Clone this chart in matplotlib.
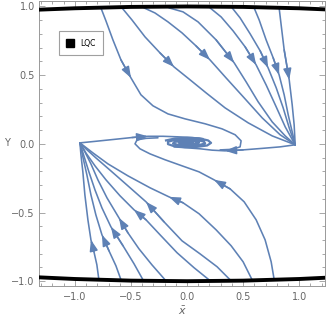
import numpy as np
import matplotlib
matplotlib.use("Agg")
import matplotlib.pyplot as plt
from matplotlib.lines import Line2D

# stream lines (x bar, Y)
# lines starting on the upper LQC boundary
t1_x = [-0.768, -0.723, -0.661, -0.589, -0.500, -0.411, -0.304, -0.170, -0.018, 0.161, 0.3125, 0.429, 0.482, 0.473, 0.402, 0.295]
t1_y = [0.99, 0.895, 0.757, 0.611, 0.480, 0.357, 0.277, 0.218, 0.182, 0.146, 0.109, 0.066, 0.022, -0.022, -0.040, -0.044]
t2_x = [-0.580, -0.491, -0.375, -0.241, -0.116, 0.027, 0.170, 0.339, 0.545, 0.759, 0.964]
t2_y = [0.99, 0.902, 0.779, 0.662, 0.560, 0.466, 0.371, 0.262, 0.153, 0.058, -0.007]
t3_x = [-0.384, -0.286, -0.170, -0.045, 0.080, 0.205, 0.348, 0.509, 0.670, 0.830, 0.964]
t3_y = [0.99, 0.953, 0.888, 0.808, 0.713, 0.611, 0.480, 0.335, 0.189, 0.066, -0.007]
t4_x = [-0.161, -0.036, 0.098, 0.259, 0.420, 0.527, 0.634, 0.759, 0.875, 0.964]
t4_y = [0.99, 0.961, 0.888, 0.757, 0.590, 0.451, 0.306, 0.160, 0.058, -0.007]
t5_x = [0.205, 0.304, 0.411, 0.518, 0.616, 0.705, 0.795, 0.875, 0.964]
t5_y = [0.99, 0.924, 0.822, 0.706, 0.575, 0.429, 0.269, 0.124, -0.007]
t6_x = [0.402, 0.473, 0.5625, 0.652, 0.723, 0.795, 0.857, 0.911, 0.964]
t6_y = [0.99, 0.917, 0.801, 0.677, 0.553, 0.408, 0.262, 0.116, -0.007]
t7_x = [0.598, 0.643, 0.705, 0.768, 0.821, 0.866, 0.902, 0.9375, 0.964]
t7_y = [0.99, 0.902, 0.757, 0.626, 0.502, 0.357, 0.211, 0.087, -0.007]
t8_x = [0.821, 0.839, 0.866, 0.911, 0.9375, 0.955, 0.964]
t8_y = [0.99, 0.866, 0.684, 0.466, 0.284, 0.138, -0.007]

# lines starting on the lower LQC boundary
b1_x = [0.777, 0.750, 0.696, 0.616, 0.509, 0.384, 0.241, 0.107, -0.045, -0.196, -0.330, -0.420, -0.464, -0.446, -0.366, -0.259]
b1_y = [-0.99, -0.859, -0.699, -0.553, -0.422, -0.328, -0.262, -0.204, -0.160, -0.116, -0.073, -0.036, 0.0, 0.029, 0.040, 0.044]
b2_x = [0.580, 0.500, 0.393, 0.259, 0.107, -0.036, -0.161, -0.330, -0.527, -0.705, -0.839, -0.955]
b2_y = [-0.99, -0.859, -0.742, -0.626, -0.509, -0.429, -0.386, -0.320, -0.233, -0.146, -0.066, 0.007]
b3_x = [0.384, 0.268, 0.116, -0.045, -0.205, -0.366, -0.527, -0.679, -0.813, -0.902, -0.955]
b3_y = [-0.99, -0.895, -0.801, -0.706, -0.568, -0.422, -0.306, -0.197, -0.102, -0.036, 0.007]
b4_x = [0.196, 0.0625, -0.089, -0.241, -0.366, -0.473, -0.598, -0.723, -0.821, -0.902, -0.955]
b4_y = [-0.99, -0.902, -0.793, -0.662, -0.553, -0.480, -0.378, -0.262, -0.160, -0.066, 0.007]
b5_x = [-0.196, -0.313, -0.429, -0.527, -0.607, -0.714, -0.795, -0.857, -0.911, -0.955]
b5_y = [-0.99, -0.881, -0.764, -0.648, -0.539, -0.393, -0.262, -0.146, -0.058, 0.007]
b6_x = [-0.393, -0.473, -0.571, -0.679, -0.759, -0.821, -0.875, -0.920, -0.955]
b6_y = [-0.99, -0.873, -0.742, -0.604, -0.466, -0.335, -0.204, -0.087, 0.007]
b7_x = [-0.589, -0.634, -0.696, -0.759, -0.813, -0.857, -0.893, -0.929, -0.955]
b7_y = [-0.99, -0.888, -0.779, -0.662, -0.517, -0.371, -0.226, -0.095, 0.007]
b8_x = [-0.786, -0.804, -0.830, -0.857, -0.884, -0.911, -0.929, -0.946, -0.955]
b8_y = [-0.99, -0.881, -0.786, -0.699, -0.553, -0.371, -0.204, -0.080, 0.007]

# return lines into the focus and the focus itself
r_x = [0.964, 0.830, 0.670, 0.500, 0.339, 0.223, 0.116, 0.0, -0.116]
r_y = [-0.007, -0.022, -0.033, -0.044, -0.051, -0.046, -0.036, -0.029, -0.022]
l_x = [-0.955, -0.821, -0.643, -0.491, -0.348, -0.214, -0.080, 0.045, 0.143]
l_y = [0.007, 0.018, 0.033, 0.046, 0.055, 0.055, 0.051, 0.046, 0.038]
spiral_x = [-0.1875, -0.107, 0.0, 0.107, 0.1875, 0.214, 0.179, 0.089, -0.018, -0.116, -0.170, -0.170,
            -0.116, -0.009, 0.089, 0.152, 0.161, 0.107, 0.009, -0.080, -0.125, -0.107, -0.027, 0.0625,
            0.107, 0.080, 0.009, -0.054, -0.071, -0.036, 0.027, 0.054, 0.018, -0.018, -0.027, 0.0]
spiral_y = [0.025, 0.039, 0.044, 0.040, 0.025, 0.007, -0.012, -0.022, -0.024, -0.017, -0.002, 0.015,
            0.027, 0.031, 0.028, 0.016, 0.003, -0.009, -0.013, -0.008, 0.003, 0.015, 0.020, 0.018,
            0.009, -0.001, -0.005, -0.001, 0.007, 0.013, 0.012, 0.005, 0.0, 0.003, 0.008, 0.010]

lines = [(t1_x, t1_y, 4), (t2_x, t2_y, 4), (t3_x, t3_y, 5), (t4_x, t4_y, 4),
         (t5_x, t5_y, 4), (t6_x, t6_y, 4), (t7_x, t7_y, 4), (t8_x, t8_y, 3),
         (b1_x, b1_y, 6), (b2_x, b2_y, 6), (b3_x, b3_y, 5), (b4_x, b4_y, 5),
         (b5_x, b5_y, 4), (b6_x, b6_y, 3), (b7_x, b7_y, 3), (b8_x, b8_y, 3),
         (r_x, r_y, 4), (l_x, l_y, 4)]

# LQC boundary
lqc_x = [-1.32, -1.0, -0.5, 0.0, 0.5, 1.0, 1.23]
lqc_top = [0.977, 0.987, 0.997, 1.0, 0.997, 0.987, 0.979]
lqc_bot = [-0.972, -0.984, -0.996, -1.0, -0.996, -0.984, -0.975]

blue = '#5E81B5'
gray = '#666666'

fig = plt.figure(figsize=(3.27, 3.19), dpi=100)
ax = fig.add_axes([39/327, 1 - 286/319, 286/327, 285/319])

for xs, ys, ia in lines:
    ax.plot(xs, ys, color=blue, lw=1.15, solid_capstyle='round', solid_joinstyle='round', zorder=2)
    ax.annotate('', xy=(xs[ia], ys[ia]), xytext=(xs[ia-1], ys[ia-1]),
                arrowprops=dict(arrowstyle='-|>,head_length=0.6,head_width=0.22',
                                color=blue, lw=1.1, mutation_scale=11,
                                shrinkA=0, shrinkB=0), zorder=3)

# the focus at the origin, drawn a bit heavier so it reads as a dense knot
ax.plot(spiral_x, spiral_y, color=blue, lw=1.6, solid_joinstyle='round', zorder=2)

ax.plot(lqc_x, lqc_top, color='black', lw=2.8, zorder=4)
ax.plot(lqc_x, lqc_bot, color='black', lw=2.8, zorder=4)

ax.set_xlim(-1.32, 1.23)
ax.set_ylim(-1.035, 1.04)
ax.set_xticks([-1.0, -0.5, 0.0, 0.5, 1.0])
ax.set_yticks([-1.0, -0.5, 0.0, 0.5, 1.0])
ax.set_xticks(np.arange(-1.3, 1.25, 0.1), minor=True)
ax.set_yticks(np.arange(-1.0, 1.05, 0.1), minor=True)
ax.tick_params(which='both', direction='in', top=True, right=True, color='#999999',
               labelcolor=gray, labelsize=7, width=0.6)
ax.tick_params(which='major', length=4)
ax.tick_params(which='minor', length=2)
ax.xaxis.set_major_formatter(plt.FuncFormatter(lambda v, p: f'{v:.1f}'.replace('-', '\u2212')))
ax.yaxis.set_major_formatter(plt.FuncFormatter(lambda v, p: f'{v:.1f}'.replace('-', '\u2212')))
ax.tick_params(axis='x', labeltop=False, pad=4)
ax.tick_params(axis='y', labelright=False, pad=3)
for s in ax.spines.values():
    s.set_color('#999999')
    s.set_linewidth(0.7)

ax.set_xlabel(r'$\bar{x}$', color=gray, fontsize=8, labelpad=2)
ax.set_ylabel('Y', color=gray, fontsize=7, rotation=0, va='center', ha='center')
ax.yaxis.set_label_coords(-0.112, 0.5)

h = Line2D([], [], marker='s', color='black', ls='', markersize=6)
leg = ax.legend([h], ['LQC'], loc='upper left', bbox_to_anchor=(0.07, 0.895),
                fontsize=5.5, frameon=True, fancybox=False, borderpad=1.0,
                handlelength=1.0, handletextpad=0.8, borderaxespad=0)
leg.get_frame().set_edgecolor('#888888')
leg.get_frame().set_linewidth(0.8)
leg.set_zorder(5)

fig.savefig('out.png', dpi=100)
